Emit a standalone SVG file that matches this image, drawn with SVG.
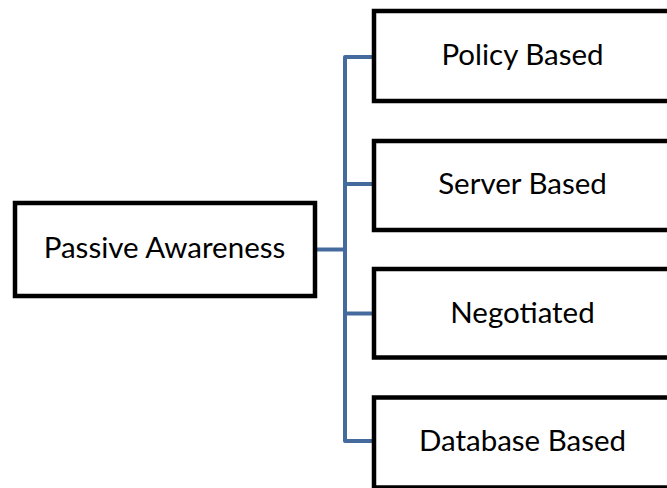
<svg xmlns="http://www.w3.org/2000/svg" width="667" height="488" viewBox="0 0 667 488">
  <style>
    .box { fill: #ffffff; stroke: #000000; stroke-width: 4.5; }
    .label { font-family: Lato, "Open Sans", "Liberation Sans", sans-serif; font-size: 29.5px; fill: #000000; text-anchor: middle; }
    .wire { fill: none; stroke: #456A9E; stroke-width: 4; stroke-linejoin: round; }
  </style>
  <rect width="667" height="488" fill="#ffffff"/>

  <!-- tree connectors -->
  <g id="connectors">
    <path class="wire" d="M317 249.5 H345"/>
    <path class="wire" d="M372 57 H345 V441 H372"/>
    <path class="wire" d="M345 184 H372"/>
    <path class="wire" d="M345 313.5 H372"/>
  </g>

  <g id="passive-awareness">
    <rect class="box" x="15" y="203" width="300" height="93"/>
    <text class="label" x="164.5" y="258">Passive Awareness</text>
  </g>

  <g id="policy-based">
    <rect class="box" x="374" y="11" width="300" height="90"/>
    <text class="label" x="522.5" y="65">Policy Based</text>
  </g>

  <g id="server-based">
    <rect class="box" x="374" y="141" width="300" height="89"/>
    <text class="label" x="522.5" y="193.5">Server Based</text>
  </g>

  <g id="negotiated">
    <rect class="box" x="374" y="269" width="300" height="88.5"/>
    <text class="label" x="522.5" y="322.5">Negotiated</text>
  </g>

  <g id="database-based">
    <rect class="box" x="374" y="397.5" width="300" height="90"/>
    <text class="label" x="522.5" y="451">Database Based</text>
  </g>
</svg>
